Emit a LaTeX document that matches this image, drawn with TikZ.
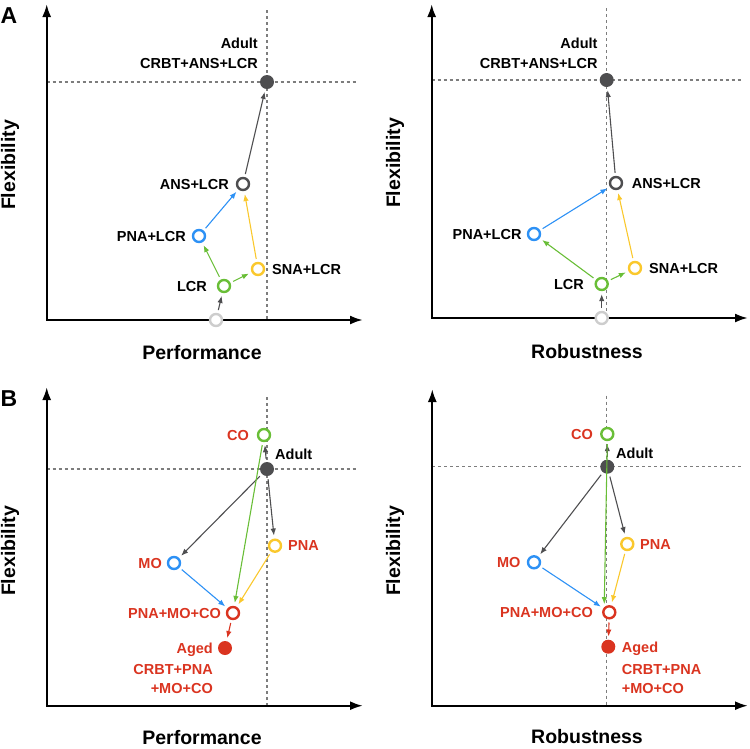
\documentclass[tikz,border=0pt]{standalone}
\usepackage{fontspec}
\setmainfont{Liberation Sans}
\usepackage{tikz}
\usetikzlibrary{arrows.meta}
\definecolor{mydarkgray}{RGB}{78,78,80}
\definecolor{mylightgray}{RGB}{205,205,205}
\definecolor{myguide}{RGB}{125,125,125}
\definecolor{myblue}{RGB}{45,145,245}
\definecolor{mygreen}{RGB}{105,190,55}
\definecolor{myyellow}{RGB}{250,200,45}
\definecolor{myred}{RGB}{218,52,32}

\begin{document}
\begin{tikzpicture}[x=1pt, y=-1pt, % one unit is one pixel of the figure, y runs downwards
    axis/.style={line width=2.3pt, {Latex[length=13pt,width=9pt]}-{Latex[length=13pt,width=9pt]}},
    guide/.style={myguide, line width=1.1pt, dash pattern=on 3pt off 3pt},
    ring/.style={circle, draw=#1, line width=2.4pt, fill=white, minimum size=12pt, inner sep=0pt},
    blob/.style={circle, fill=#1, minimum size=14pt, inner sep=0pt},
    link/.style={draw=#1, line width=1.1pt, -{Latex[length=7pt,width=5.5pt]}, shorten >=3pt, shorten <=3pt},
    txt/.style={font=\bfseries\fontsize{14.5}{16}\selectfont, inner sep=0pt, text height=10.4pt, text depth=0pt},
    txtml/.style={font=\bfseries\fontsize{14.5}{19}\selectfont, inner sep=0pt},
    axlabel/.style={font=\bfseries\fontsize{19.5}{22}\selectfont, inner sep=0pt},
    panel/.style={font=\bfseries\fontsize{23}{26}\selectfont, inner sep=0pt}]
  \useasboundingbox (0,0) rectangle (750,748);

  % Panel letters
  \node[panel] (letterA) at (9,16) {A};
  \node[panel] (letterB) at (9,399) {B};

  % ---------- A, performance ----------
  \draw[guide] (267,10) -- (267,320);
  \draw[guide] (46.7,82) -- (358,82);
  \draw[axis] (46.7,4) -- (46.7,320) -- (363,320);
  \node[axlabel] (aX) at (202,353) {Performance};
  \node[axlabel, rotate=90] (aY) at (10,165) {Flexibility};

  \node[blob=mydarkgray] (aAdult) at (267,82) {};
  \node[ring=mydarkgray] (aANS) at (243,184) {};
  \node[ring=myblue] (aPNA) at (199,236) {};
  \node[ring=myyellow] (aSNA) at (258,269) {};
  \node[ring=mygreen] (aLCR) at (224,286) {};
  \node[ring=mylightgray] (aStart) at (216,320) {};

  \node[txt, anchor=east] (aAdultLbl) at (258,43) {Adult};
  \node[txt, anchor=east] (aAdultMix) at (258,63) {CRBT+ANS+LCR};
  \node[txt, anchor=east] (aANSLbl) at (229,184) {ANS+LCR};
  \node[txt, anchor=east] (aPNALbl) at (186,236) {PNA+LCR};
  \node[txt, anchor=west] (aSNALbl) at (272,269) {SNA+LCR};
  \node[txt, anchor=east] (aLCRLbl) at (207,286) {LCR};

  \draw[link=mydarkgray] (aStart) -- (aLCR);
  \draw[link=mygreen] (aLCR) -- (aPNA);
  \draw[link=mygreen] (aLCR) -- (aSNA);
  \draw[link=myblue] (aPNA) -- (aANS);
  \draw[link=myyellow] (aSNA) -- (aANS);
  \draw[link=mydarkgray] (aANS) -- (aAdult);

  % ---------- A, robustness ----------
  \draw[guide] (606.7,8) -- (606.7,318);
  \draw[guide] (431.7,80) -- (741.7,80);
  \draw[axis] (431.7,4) -- (431.7,318) -- (748,318);
  \node[axlabel] (bX) at (587,352) {Robustness};
  \node[axlabel, rotate=90] (bY) at (395,163) {Flexibility};

  \node[blob=mydarkgray] (bAdult) at (606.7,80) {};
  \node[ring=mydarkgray] (bANS) at (616,183) {};
  \node[ring=myblue] (bPNA) at (534,234) {};
  \node[ring=myyellow] (bSNA) at (635,268) {};
  \node[ring=mygreen] (bLCR) at (601.7,284) {};
  \node[ring=mylightgray] (bStart) at (601.7,318) {};

  \node[txt, anchor=east] (bAdultLbl) at (597.7,43) {Adult};
  \node[txt, anchor=east] (bAdultMix) at (597.7,63) {CRBT+ANS+LCR};
  \node[txt, anchor=west] (bANSLbl) at (631.7,183) {ANS+LCR};
  \node[txt, anchor=east] (bPNALbl) at (521.7,234) {PNA+LCR};
  \node[txt, anchor=west] (bSNALbl) at (649,268) {SNA+LCR};
  \node[txt, anchor=east] (bLCRLbl) at (584,284) {LCR};

  \draw[link=mydarkgray] (bStart) -- (bLCR);
  \draw[link=mygreen] (bLCR) -- (bPNA);
  \draw[link=mygreen] (bLCR) -- (bSNA);
  \draw[link=myblue] (bPNA) -- (bANS);
  \draw[link=myyellow] (bSNA) -- (bANS);
  \draw[link=mydarkgray] (bANS) -- (bAdult);

  % ---------- B, performance ----------
  \draw[guide] (267,397) -- (267,705.7);
  \draw[guide] (46.7,469) -- (358,469);
  \draw[axis] (46.7,387) -- (46.7,705.7) -- (363,705.7);
  \node[axlabel] (cX) at (202,737.5) {Performance};
  \node[axlabel, rotate=90] (cY) at (10,551) {Flexibility};

  \node[blob=mydarkgray] (cAdult) at (267,469) {};
  \node[ring=mygreen] (cCO) at (264,435) {};
  \node[ring=myyellow] (cPNA) at (275,545.7) {};
  \node[ring=myblue] (cMO) at (174,563) {};
  \node[ring=myred] (cMix) at (233,613) {};
  \node[blob=myred] (cAged) at (225,648) {};

  \node[txt, anchor=west] (cAdultLbl) at (275,454) {Adult};
  \node[txt, anchor=east, text=myred] (cCOLbl) at (249,435) {CO};
  \node[txt, anchor=west, text=myred] (cPNALbl) at (288,545.7) {PNA};
  \node[txt, anchor=east, text=myred] (cMOLbl) at (162,563) {MO};
  \node[txt, anchor=east, text=myred] (cMixLbl) at (221,613) {PNA+MO+CO};
  \node[txt, anchor=east, text=myred] (cAgedLbl) at (213,648) {Aged};
  \node[txtml, anchor=north east, align=right, text=myred] (cAgedMix) at (213,664.5) {CRBT+PNA\\+MO+CO};

  \draw[link=mydarkgray] (cAdult) -- (cCO);
  \draw[link=mydarkgray] (cAdult) -- (cMO);
  \draw[link=mydarkgray] (cAdult) -- (cPNA);
  \draw[link=mygreen] (cCO) -- (cMix);
  \draw[link=myblue] (cMO) -- (cMix);
  \draw[link=myyellow] (cPNA) -- (cMix);
  \draw[link=myred] (cMix) -- (cAged);

  % ---------- B, robustness ----------
  \draw[guide] (606.7,395.7) -- (606.7,705.7);
  \draw[guide] (432.3,466.7) -- (741.7,466.7);
  \draw[axis] (432.3,389) -- (432.3,705.7) -- (748,705.7);
  \node[axlabel] (dX) at (587,737) {Robustness};
  \node[axlabel, rotate=90] (dY) at (395,551) {Flexibility};

  \node[blob=mydarkgray] (dAdult) at (607.3,466.7) {};
  \node[ring=mygreen] (dCO) at (607.3,434) {};
  \node[ring=myyellow] (dPNA) at (627.3,544) {};
  \node[ring=myblue] (dMO) at (534,562.3) {};
  \node[ring=myred] (dMix) at (609.3,612.3) {};
  \node[blob=myred] (dAged) at (608.3,646.7) {};

  \node[txt, anchor=west] (dAdultLbl) at (616,453) {Adult};
  \node[txt, anchor=east, text=myred] (dCOLbl) at (593,434) {CO};
  \node[txt, anchor=west, text=myred] (dPNALbl) at (640,544) {PNA};
  \node[txt, anchor=east, text=myred] (dMOLbl) at (520.7,562.3) {MO};
  \node[txt, anchor=east, text=myred] (dMixLbl) at (593,612.3) {PNA+MO+CO};
  \node[txt, anchor=west, text=myred] (dAgedLbl) at (621.7,647) {Aged};
  \node[txtml, anchor=north west, align=left, text=myred] (dAgedMix) at (621.7,664.5) {CRBT+PNA\\+MO+CO};

  \draw[link=mydarkgray] (dAdult) -- (dCO);
  \draw[link=mydarkgray] (dAdult) -- (dMO);
  \draw[link=mydarkgray] (dAdult) -- (dPNA);
  \draw[link=mygreen] (dCO.south) -- (dMix.north west);
  \draw[link=myblue] (dMO) -- (dMix);
  \draw[link=myyellow] (dPNA) -- (dMix);
  \draw[link=myred] (dMix) -- (dAged);
\end{tikzpicture}
\end{document}
